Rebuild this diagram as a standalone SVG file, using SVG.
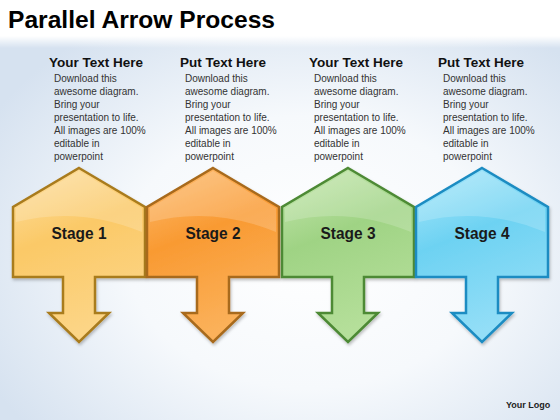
<svg xmlns="http://www.w3.org/2000/svg" width="560" height="420" viewBox="0 0 560 420">
<defs>
<radialGradient id="bg" cx="0.55" cy="0.6" r="0.65">
<stop offset="0" stop-color="#ffffff"/>
<stop offset="0.5" stop-color="#f6f9fc"/>
<stop offset="1" stop-color="#d6e2f0"/>
</radialGradient>
<linearGradient id="topfade" x1="0" y1="0" x2="0" y2="1">
<stop offset="0" stop-color="#ffffff" stop-opacity="1"/>
<stop offset="0.75" stop-color="#ffffff" stop-opacity="1"/>
<stop offset="1" stop-color="#ffffff" stop-opacity="0"/>
</linearGradient>
<linearGradient id="g1" x1="0" y1="0" x2="0.3" y2="1">
<stop offset="0" stop-color="#fde0a4"/><stop offset="0.45" stop-color="#fbc967"/><stop offset="1" stop-color="#fcd586"/>
</linearGradient>
<linearGradient id="g2" x1="0" y1="0" x2="0.3" y2="1">
<stop offset="0" stop-color="#fdbd72"/><stop offset="0.45" stop-color="#f99a32"/><stop offset="1" stop-color="#fbb15a"/>
</linearGradient>
<linearGradient id="g3" x1="0" y1="0" x2="0.3" y2="1">
<stop offset="0" stop-color="#c8e8b2"/><stop offset="0.45" stop-color="#9fd384"/><stop offset="1" stop-color="#b5df9a"/>
</linearGradient>
<linearGradient id="g4" x1="0" y1="0" x2="0.3" y2="1">
<stop offset="0" stop-color="#aee9fb"/><stop offset="0.45" stop-color="#6dd2f2"/><stop offset="1" stop-color="#93def7"/>
</linearGradient>
<filter id="sh" x="-20%" y="-20%" width="140%" height="140%">
<feDropShadow dx="1" dy="2" stdDeviation="1.5" flood-color="#000" flood-opacity="0.25"/>
</filter>
<path id="shape" d="M0,168 L66,207 L66,277 L16,277 L16,313 L30,313 L0,342 L-30,313 L-16,313 L-16,277 L-66,277 L-66,207 Z"/>
<path id="gloss" d="M0,171 L63,208 L63,232 Q0,206 -63,222 L-63,208 Z"/>
</defs>
<style>
.title{font-family:"Liberation Sans",Arial,sans-serif;font-weight:bold;font-size:24px;fill:#000}
.head{font-family:"Liberation Sans",Arial,sans-serif;font-weight:bold;font-size:13.5px;fill:#111}
.body{font-family:"Liberation Sans",Arial,sans-serif;font-size:10px;fill:#333}
.stage{font-family:"Liberation Sans",Arial,sans-serif;font-weight:bold;font-size:17px;fill:#1a1a1a;text-anchor:middle}
.logo{font-family:"Liberation Sans",Arial,sans-serif;font-weight:bold;font-size:9px;fill:#222}
.shape{stroke-width:2.5;stroke-linejoin:miter;filter:url(#sh)}
.gl{fill:#fff;opacity:0.18}
</style>
<rect x="0" y="0" width="560" height="420" fill="url(#bg)"/>
<rect x="0" y="0" width="560" height="48" fill="url(#topfade)"/>
<text class="title" x="8" y="28" textLength="267" lengthAdjust="spacingAndGlyphs">Parallel Arrow Process</text>

<g id="text1">
<text class="head" x="49" y="67">Your Text Here</text>
<text class="body" x="54"><tspan x="54" y="82">Download this</tspan><tspan x="54" y="95">awesome diagram.</tspan><tspan x="54" y="108">Bring your</tspan><tspan x="54" y="121">presentation to life.</tspan><tspan x="54" y="134">All images are 100%</tspan><tspan x="54" y="147">editable in</tspan><tspan x="54" y="160">powerpoint</tspan></text>
</g>
<g id="text2">
<text class="head" x="180" y="67">Put Text Here</text>
<text class="body" x="185"><tspan x="185" y="82">Download this</tspan><tspan x="185" y="95">awesome diagram.</tspan><tspan x="185" y="108">Bring your</tspan><tspan x="185" y="121">presentation to life.</tspan><tspan x="185" y="134">All images are 100%</tspan><tspan x="185" y="147">editable in</tspan><tspan x="185" y="160">powerpoint</tspan></text>
</g>
<g id="text3">
<text class="head" x="309" y="67">Your Text Here</text>
<text class="body" x="314"><tspan x="314" y="82">Download this</tspan><tspan x="314" y="95">awesome diagram.</tspan><tspan x="314" y="108">Bring your</tspan><tspan x="314" y="121">presentation to life.</tspan><tspan x="314" y="134">All images are 100%</tspan><tspan x="314" y="147">editable in</tspan><tspan x="314" y="160">powerpoint</tspan></text>
</g>
<g id="text4">
<text class="head" x="438" y="67">Put Text Here</text>
<text class="body" x="443"><tspan x="443" y="82">Download this</tspan><tspan x="443" y="95">awesome diagram.</tspan><tspan x="443" y="108">Bring your</tspan><tspan x="443" y="121">presentation to life.</tspan><tspan x="443" y="134">All images are 100%</tspan><tspan x="443" y="147">editable in</tspan><tspan x="443" y="160">powerpoint</tspan></text>
</g>

<g id="stage1" transform="translate(79,0)">
<use href="#shape" class="shape" fill="url(#g1)" stroke="#a97b1f"/>
<use href="#gloss" class="gl"/>
<text class="stage" x="0" y="239" textLength="55" lengthAdjust="spacingAndGlyphs">Stage 1</text>
</g>
<g id="stage2" transform="translate(213,0)">
<use href="#shape" class="shape" fill="url(#g2)" stroke="#a86a1c"/>
<use href="#gloss" class="gl"/>
<text class="stage" x="0" y="239" textLength="55" lengthAdjust="spacingAndGlyphs">Stage 2</text>
</g>
<g id="stage3" transform="translate(348,0)">
<use href="#shape" class="shape" fill="url(#g3)" stroke="#4d8a35"/>
<use href="#gloss" class="gl"/>
<text class="stage" x="0" y="239" textLength="55" lengthAdjust="spacingAndGlyphs">Stage 3</text>
</g>
<g id="stage4" transform="translate(482,0)">
<use href="#shape" class="shape" fill="url(#g4)" stroke="#1c8cc2"/>
<use href="#gloss" class="gl"/>
<text class="stage" x="0" y="239" textLength="55" lengthAdjust="spacingAndGlyphs">Stage 4</text>
</g>
<g id="connectors"/>
<text class="logo" x="506" y="408">Your Logo</text>
</svg>
